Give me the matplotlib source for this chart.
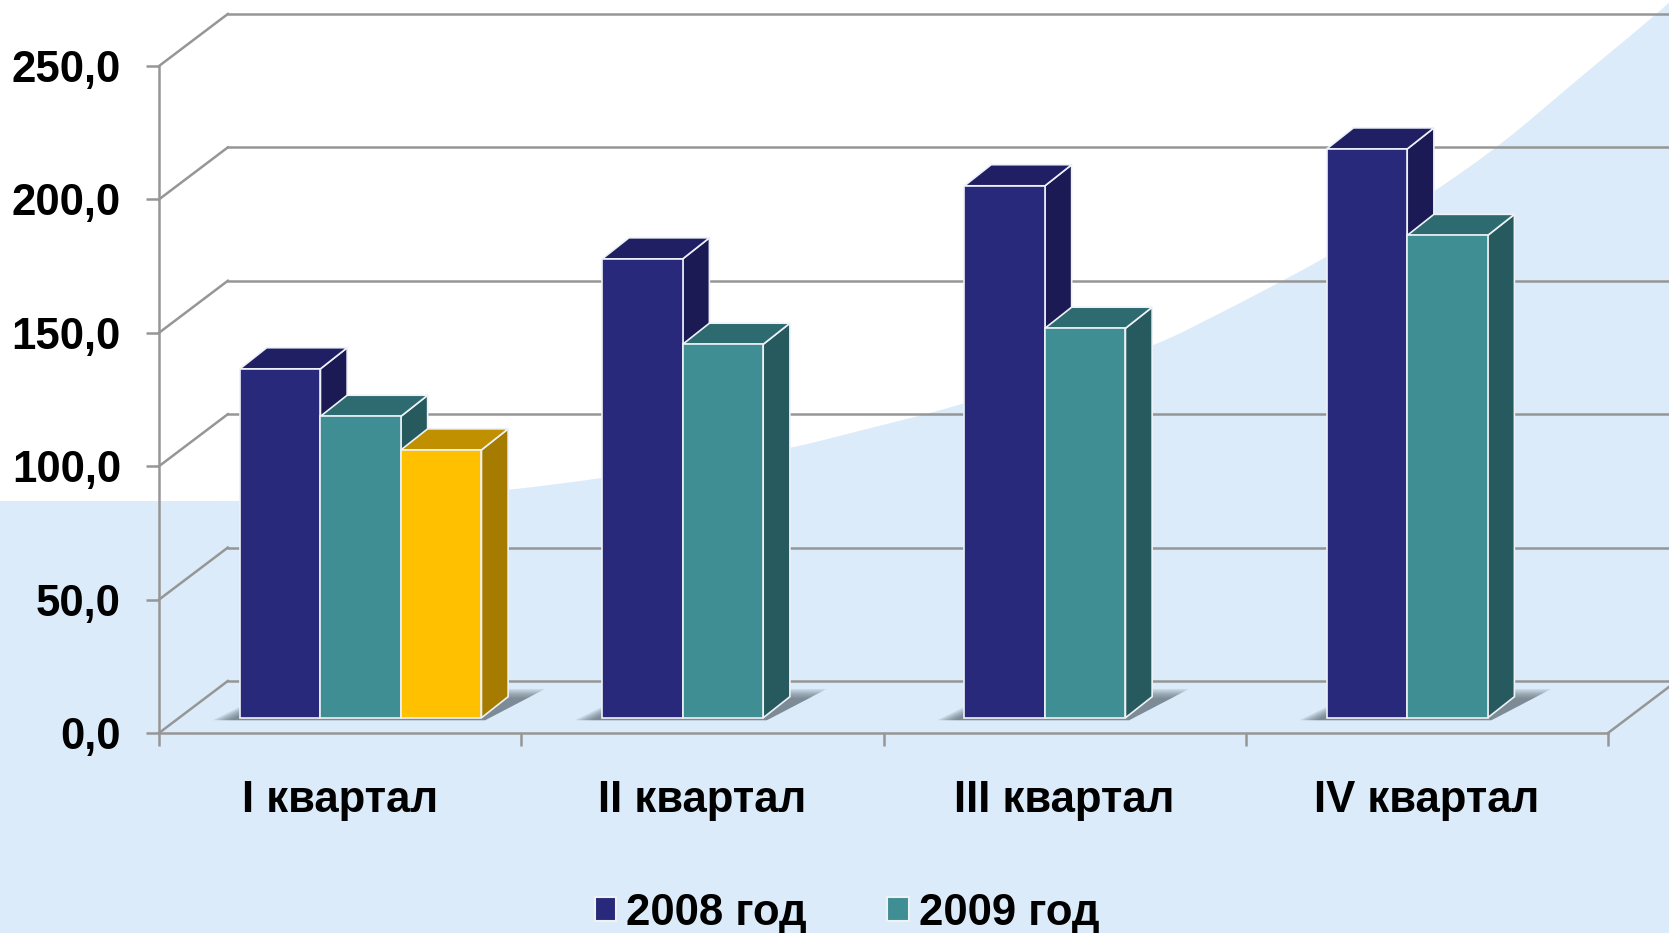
import numpy as np
import matplotlib
matplotlib.use("Agg")
import matplotlib.pyplot as plt
from matplotlib.patches import Patch

plt.rcParams['font.family'] = ['Liberation Sans', 'DejaVu Sans']
plt.rcParams['font.weight'] = 'bold'

quarters = ['I квартал', 'II квартал', 'III квартал', 'IV квартал']
values_2008 = [130.8, 172.0, 199.4, 213.2]
values_2009 = [113.0, 140.0, 146.0, 180.8]
values_third = [100.4]
y_ticks = [0, 50, 100, 150, 200, 250]

# background curve, figure pixels
curve_x = [0, 250, 400, 510, 596, 788, 942, 1155, 1250, 1327, 1437, 1503, 1583, 1658, 1700]
curve_y = [501, 501, 497, 490, 479, 449, 410, 346, 298, 257, 190, 143, 75, 13, -25]

BG = '#DCEBF9'
GRID = '#969696'
EDGE = '#EDF2F7'
NAVY = ('#29297B', '#201F63', '#1B1A55')
TEAL = ('#3F8E94', '#2E6B70', '#275A5E')
GOLD = ('#FFC000', '#C09000', '#A67C00')

fig = plt.figure(figsize=(16.69, 9.33), dpi=100, facecolor=BG)

bg = fig.add_axes([0, 0, 1, 1])
bg.set_xlim(0, 1669)
bg.set_ylim(933, 0)
bg.axis('off')
# soften the kinks of the hand read outline
xs = np.arange(0, 1701, 5)
ys = np.interp(xs, curve_x, curve_y)
ys = np.convolve(np.pad(ys, 6, mode='edge'), np.ones(13) / 13, mode='valid')
bg.fill(np.r_[xs, 1700, 0], np.r_[ys, -30, -30], color='white', lw=0)

ax = fig.add_axes([159 / 1669, 200 / 933, 1449 / 1669, 667 / 933])
ax.patch.set_alpha(0)
ax.set_xlim(0, 4)
ax.set_ylim(0, 250)

# 3D offsets, in data units
wall_dx, wall_dy = 0.19, 19.5
shift_y = 5.7
depth_x, depth_y = 0.0737, 7.9
bar_w = 0.2222

# back wall and left wall lines
for t in y_ticks:
    ax.plot([0, wall_dx], [t, t + wall_dy], color=GRID, lw=1.8, zorder=1, clip_on=False)
    ax.plot([wall_dx, 4 + wall_dx], [t + wall_dy, t + wall_dy], color=GRID, lw=1.8, zorder=1, clip_on=False)
ax.plot([4, 4 + wall_dx], [0, wall_dy], color=GRID, lw=1.8, zorder=1, clip_on=False)


def shadow(x0, x1):
    # stacked see-through layers stand in for the soft edge
    for k in range(8):
        ins = k * 0.007
        ax.fill([x0 - 0.075 + ins, x1 + 0.01, x1 + 0.175 - ins, x0 + 0.1],
                [4.8, 4.8, 16.5 - k * 0.5, 16.5 - k * 0.5],
                color='#4F5F68', alpha=0.13, lw=0, zorder=2, clip_on=False)


def bar3d(x, v, cols):
    # side, top, then the front face
    r = x + bar_w
    t = shift_y + v
    ax.fill([r, r + depth_x, r + depth_x, r],
            [shift_y, shift_y + depth_y, t + depth_y, t],
            facecolor=cols[2], edgecolor=EDGE, lw=1.2, zorder=3, clip_on=False)
    ax.fill([x, r, r + depth_x, x + depth_x],
            [t, t, t + depth_y, t + depth_y],
            facecolor=cols[1], edgecolor=EDGE, lw=1.2, zorder=3, clip_on=False)
    ax.bar(x, v, width=bar_w, bottom=shift_y, align='edge', color=cols[0],
           edgecolor=EDGE, lw=1.2, zorder=3, clip_on=False)


for i in range(len(quarters)):
    x0 = i + 0.2235
    n = 3 if i < len(values_third) else 2
    shadow(x0, x0 + n * bar_w)
    bar3d(x0, values_2008[i], NAVY)
    bar3d(x0 + bar_w, values_2009[i], TEAL)
    if i < len(values_third):
        bar3d(x0 + 2 * bar_w, values_third[i], GOLD)

for s in ['top', 'right']:
    ax.spines[s].set_visible(False)
for s in ['left', 'bottom']:
    ax.spines[s].set_color(GRID)
    ax.spines[s].set_linewidth(1.8)

ax.set_yticks(y_ticks)
ax.set_yticklabels([f'{t:.1f}'.replace('.', ',') for t in y_ticks])
ax.set_xticks(range(5))
ax.set_xticklabels([])
ax.set_xticks(np.arange(4) + 0.5, quarters, minor=True)
ax.tick_params(axis='both', which='major', length=9.4, width=1.8, color=GRID,
               labelsize=31.5, pad=18)
ax.tick_params(axis='x', which='minor', length=0, labelsize=31.5, pad=34)

handles = [Patch(facecolor=NAVY[0], edgecolor=EDGE, lw=1.5, label='2008 год'),
           Patch(facecolor=TEAL[0], edgecolor=EDGE, lw=1.5, label='2009 год')]
fig.legend(handles=handles, loc='center', bbox_to_anchor=(847 / 1669, 1 - 913 / 933),
           ncol=2, frameon=False, fontsize=31.5, handlelength=0.49, handleheight=0.49,
           handletextpad=0.23, columnspacing=1.84, borderpad=0)

fig.savefig('out.png', dpi=100, facecolor=BG)
